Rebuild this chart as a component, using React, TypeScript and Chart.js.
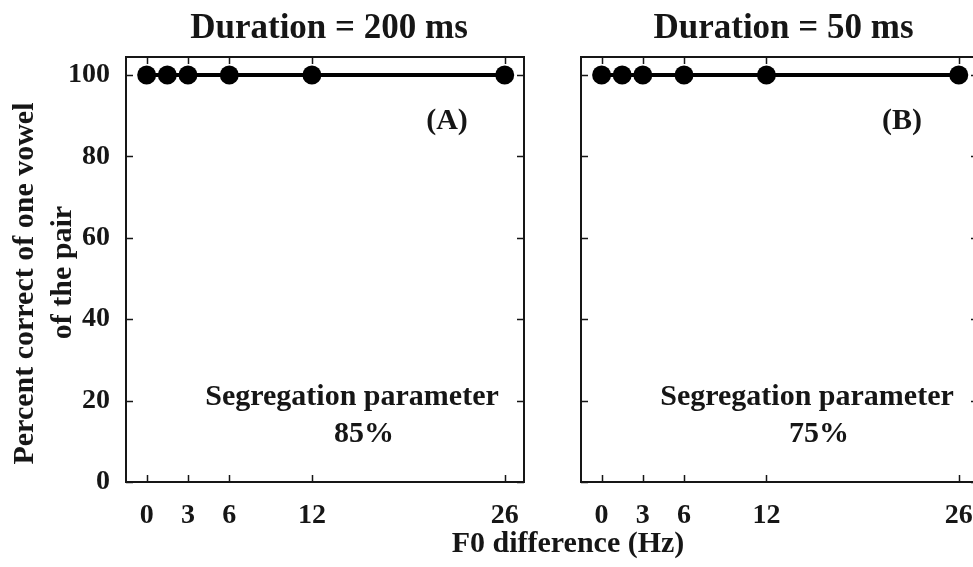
import React, { useEffect, useRef } from "react";
import { Chart, registerables } from "chart.js";
Chart.register(...registerables);

// ---- data ----
const f0Diff = [0, 1.5, 3, 6, 12, 26];
const correct200 = [100, 100, 100, 100, 100, 100];
const correct50 = [100, 100, 100, 100, 100, 100];
const xTickValues = [0, 3, 6, 12, 26];
const yTickValues = [0, 20, 40, 60, 80, 100];
const panelTitles = ["Duration = 200 ms", "Duration = 50 ms"];
const panelLabels = ["(A)", "(B)"];
const segLabel = "Segregation parameter";
const segValues = ["85%", "75%"];
const yTitleLines = ["Percent correct of one vowel", "of the pair"];
const xTitle = "F0 difference (Hz)";

const FONT = '"Liberation Serif", "Times New Roman", serif';
const INK = "#161616";

function makeDeco(idx: number, showYTitle: boolean) {
  return {
    id: "panelDeco" + idx,
    beforeDatasetsDraw(chart: any) {
      const { ctx, chartArea: a, scales } = chart;
      const xs = scales.x;
      const ys = scales.y;
      ctx.save();
      ctx.strokeStyle = INK;
      ctx.lineWidth = 2;
      ctx.strokeRect(a.left, a.top, a.right - a.left, a.bottom - a.top);
      ctx.lineWidth = 1.5;
      const tl = 7;
      ctx.beginPath();
      xTickValues.forEach((v) => {
        const px = Math.round(xs.getPixelForValue(v)) + 0.5;
        ctx.moveTo(px, a.bottom);
        ctx.lineTo(px, a.bottom - tl);
        ctx.moveTo(px, a.top);
        ctx.lineTo(px, a.top + tl);
      });
      yTickValues.forEach((v) => {
        const py = Math.round(ys.getPixelForValue(v)) + 0.5;
        ctx.moveTo(a.left, py);
        ctx.lineTo(a.left + tl, py);
        ctx.moveTo(a.right, py);
        ctx.lineTo(a.right - tl, py);
      });
      ctx.stroke();
      ctx.restore();
    },
    afterDraw(chart: any) {
      const { ctx, chartArea: a } = chart;
      const cx = (a.left + a.right) / 2;
      ctx.save();
      ctx.fillStyle = INK;
      ctx.textAlign = "center";
      ctx.textBaseline = "alphabetic";
      ctx.font = `bold 35px ${FONT}`;
      ctx.fillText(panelTitles[idx], cx + 4, a.top - 19);
      ctx.font = `bold 30px ${FONT}`;
      ctx.textBaseline = "middle";
      ctx.fillText(panelLabels[idx], a.left + 321, a.top + 64);
      ctx.textBaseline = "alphabetic";
      ctx.fillText(segLabel, a.left + 226, a.top + 348);
      ctx.fillText(segValues[idx], a.left + 238, a.top + 385);
      if (showYTitle) {
        const cy = (a.top + a.bottom) / 2;
        ctx.textBaseline = "middle";
        ctx.save();
        ctx.translate(25, cy + 14);
        ctx.rotate(-Math.PI / 2);
        ctx.fillText(yTitleLines[0], 0, 0);
        ctx.restore();
        ctx.save();
        ctx.translate(63, cy + 3);
        ctx.rotate(-Math.PI / 2);
        ctx.fillText(yTitleLines[1], 0, 0);
        ctx.restore();
      }
      ctx.restore();
    },
  };
}

function buildConfig(idx: number, values: number[], showY: boolean): any {
  return {
    type: "line",
    data: {
      datasets: [
        {
          data: f0Diff.map((x, i) => ({ x, y: values[i] })),
          borderColor: "#000",
          borderWidth: 4,
          pointRadius: 9.5,
          pointBackgroundColor: "#000",
          pointBorderWidth: 0,
          pointBorderColor: "#000",
          tension: 0,
          fill: false,
        },
      ],
    },
    options: {
      responsive: false,
      animation: false,
      devicePixelRatio: 1,
      layout: {
        padding: { top: 57, right: showY ? 21 : 27, left: 0, bottom: 0 },
      },
      plugins: {
        legend: { display: false },
        tooltip: { enabled: false },
        title: { display: false },
      },
      scales: {
        x: {
          type: "linear",
          min: -1.5,
          max: 27.4,
          grid: { display: false, drawTicks: false },
          border: { display: false },
          ticks: {
            font: { family: FONT, size: 28, weight: "bold" },
            color: INK,
            padding: 17,
            maxRotation: 0,
            autoSkip: false,
          },
          afterBuildTicks: (s: any) => {
            s.ticks = xTickValues.map((v) => ({ value: v }));
          },
          afterFit: (s: any) => {
            s.height = 85;
          },
        },
        y: {
          type: "linear",
          display: true,
          min: 0,
          max: 104.4,
          grid: { display: false, drawTicks: false },
          border: { display: false },
          ticks: {
            display: showY,
            font: { family: FONT, size: 28, weight: "bold" },
            color: INK,
            padding: 16,
            autoSkip: false,
          },
          afterBuildTicks: (s: any) => {
            s.ticks = yTickValues.map((v) => ({ value: v }));
          },
          afterFit: (s: any) => {
            s.width = showY ? 126 : 36;
          },
        },
      },
    },
    plugins: [makeDeco(idx, showY)],
  };
}

export default function App() {
  const leftRef = useRef<HTMLCanvasElement | null>(null);
  const rightRef = useRef<HTMLCanvasElement | null>(null);

  useEffect(() => {
    const c1 = new Chart(leftRef.current as any, buildConfig(0, correct200, true));
    const c2 = new Chart(rightRef.current as any, buildConfig(1, correct50, false));
    return () => {
      c1.destroy();
      c2.destroy();
    };
  }, []);

  return (
    <div
      style={{
        position: "fixed",
        left: 0,
        top: 0,
        width: 973,
        height: 567,
        overflow: "hidden",
        background: "#fff",
      }}
    >
      <canvas
        ref={leftRef}
        width={545}
        height={567}
        style={{ position: "absolute", left: 0, top: 0, width: 545, height: 567 }}
      />
      <canvas
        ref={rightRef}
        width={460}
        height={567}
        style={{ position: "absolute", left: 545, top: 0, width: 460, height: 567 }}
      />
      <div
        style={{
          position: "absolute",
          left: 568,
          top: 542,
          transform: "translate(-50%, -50%)",
          whiteSpace: "nowrap",
          font: `bold 30px ${FONT}`,
          color: INK,
          lineHeight: 1,
        }}
      >
        {xTitle}
      </div>
    </div>
  );
}
